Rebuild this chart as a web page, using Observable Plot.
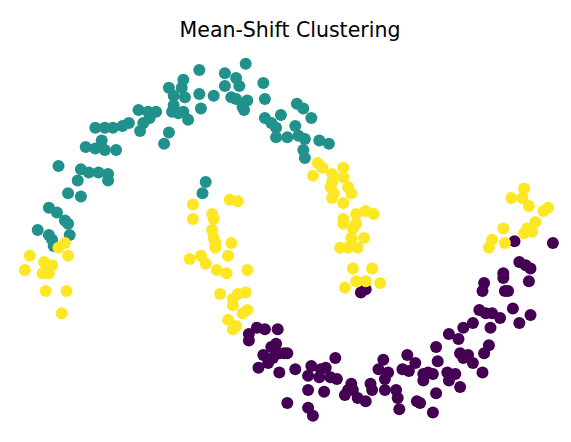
<!DOCTYPE html>
<html>
<head>
<meta charset="utf-8">
<script src="https://cdn.jsdelivr.net/npm/d3@7"></script>
<script src="https://cdn.jsdelivr.net/npm/@observablehq/plot@0.6"></script>
<style>
  body { margin: 0; background: #fff; width: 571px; }
  #title { height: 28px; padding-top: 20px; line-height: 20px; text-align: center; font-family: "DejaVu Sans", sans-serif; font-size: 20.5px; color: #000; padding-left: 9px; box-sizing: content-box; white-space: nowrap; }
</style>
</head>
<body>
<div id="title">Mean-Shift Clustering</div>
<div id="chart"></div>
<script>
const clusterNames = ["0", "1", "2"];
const clusterColors = ["#440154", "#21918c", "#fde725"];

// cluster 0 (purple)
const c0 = [
  [0.97,-0.18],[0.94,-0.20],[0.29,-0.42],[0.34,-0.43],[0.42,-0.43],[0.24,-0.46],[0.24,-0.50],
  [0.41,-0.52],[0.38,-0.54],[0.43,-0.58],[0.46,-0.58],[0.33,-0.59],[0.39,-0.61],[0.36,-0.64],
  [0.30,-0.67],[0.43,-0.70],[0.48,-0.89],[0.48,-0.58],[0.53,-0.68],[0.61,-0.72],[0.63,-0.66],
  [0.69,-0.68],[0.72,-0.67],[0.78,-0.61],[0.68,-0.73],[0.75,-0.73],[0.79,-0.74],[0.61,-0.81],
  [0.71,-0.82],[0.88,-0.77],[0.86,-0.81],[0.84,-0.84],[0.89,-0.81],[0.92,-0.86],[0.97,-0.88],
  [1.00,-0.77],[1.01,-0.81],[1.08,-0.62],[1.05,-0.68],[1.11,-0.70],[1.09,-0.74],[1.09,-0.81],
  [1.16,-0.81],[1.17,-0.86],[1.18,-0.93],[1.20,-0.68],[1.24,-0.69],[1.23,-0.59],[1.28,-0.64],
  [1.29,-0.88],[0.61,-0.92],[0.64,-0.97],[1.33,-0.71],[1.70,-0.19],[1.84,-0.19],[1.68,-0.31],
  [1.72,-0.33],[1.76,-0.33],[1.81,-0.36],[1.89,-0.30],[2.00,-0.34],[1.93,-0.39],[1.64,-0.39],
  [1.58,-0.42],[1.75,-0.42],[1.49,-0.46],[1.55,-0.49],[1.41,-0.54],[1.74,-0.53],[1.71,-0.58],
  [1.56,-0.58],[1.61,-0.59],[1.58,-0.61],[1.64,-0.64],[1.42,-0.63],[1.70,-0.70],[1.36,-0.70],
  [1.39,-0.71],[1.48,-0.70],[1.53,-0.71],[1.49,-0.75],[1.33,-0.75],[1.56,-0.79],[1.41,-0.83],
  [1.31,-0.89],[1.39,-0.95],[1.90,0.12],[2.14,0.11],[1.93,-0.01],[1.97,-0.03],[2.00,-0.05],
  [1.83,-0.08],[1.83,-0.11],[1.71,-0.14],[1.99,-0.13],[1.86,-0.19]
];

// cluster 1 (teal)
const c1 = [
  [-0.45,0.94],[-0.39,0.93],[-0.38,0.89],[-0.42,0.86],[-0.51,0.86],[-0.55,0.84],[-0.61,0.83],
  [-0.66,0.83],[-0.72,0.83],[-0.44,0.81],[-0.68,0.75],[-0.78,0.71],[-0.72,0.70],[-0.66,0.69],
  [-0.59,0.69],[-0.95,0.59],[-0.81,0.57],[-0.76,0.55],[-0.70,0.55],[-0.64,0.54],[-0.07,1.19],
  [0.22,1.23],[0.09,1.17],[0.16,1.14],[-0.17,1.13],[-0.26,1.08],[-0.18,1.08],[0.09,1.09],
  [0.18,1.09],[0.33,1.11],[-0.16,1.02],[-0.23,1.03],[-0.07,1.04],[0.02,1.03],[0.13,1.02],
  [0.16,1.01],[0.23,1.00],[0.34,1.01],[-0.23,0.97],[-0.06,0.95],[0.20,0.96],[0.21,0.94],
  [-0.34,0.93],[-0.24,0.93],[-0.20,0.92],[-0.17,0.93],[-0.14,0.88],[0.34,0.89],[0.38,0.86],
  [0.44,0.91],[0.41,0.83],[0.41,0.77],[0.48,0.77],[-0.26,0.80],[-0.29,0.73],[0.54,0.98],
  [0.58,0.95],[0.63,0.89],[0.53,0.84],[0.55,0.78],[0.59,0.76],[0.68,0.75],[0.74,0.73],
  [0.58,0.69],[0.59,0.64],[-0.83,0.50],[-0.64,0.50],[-0.89,0.42],[-0.81,0.40],[-1.01,0.33],
  [-0.96,0.30],[-0.91,0.25],[-0.89,0.23],[-0.88,0.16],[-1.08,0.19],[-1.01,0.16],[-0.99,0.13],
  [-0.98,0.09],[-0.03,0.49],[-0.05,0.42]
];

// cluster 2 (yellow)
const c2 = [
  [0.67,0.61],[0.70,0.58],[0.64,0.53],[0.76,0.54],[0.83,0.58],[0.83,0.52],[0.76,0.49],
  [0.75,0.46],[0.86,0.46],[0.77,0.42],[0.88,0.42],[0.76,0.39],[0.83,0.36],[0.91,0.29],
  [0.97,0.31],[1.02,0.29],[0.83,0.26],[0.83,0.23],[0.91,0.23],[0.89,0.20],[0.88,0.14],
  [0.96,0.14],[0.81,0.08],[0.86,0.08],[0.92,0.08],[0.89,-0.05],[1.01,-0.05],[0.84,-0.17],
  [0.91,-0.13],[0.97,-0.13],[1.06,-0.14],[-0.91,0.11],[-0.95,0.08],[-0.89,0.03],[-1.13,0.03],
  [-1.04,-0.01],[-0.99,-0.03],[-1.02,-0.05],[-1.16,-0.06],[-1.05,-0.08],[-1.01,-0.08],
  [-1.03,-0.19],[-0.90,-0.19],[-0.93,-0.33],[-0.11,0.35],[0.12,0.38],[0.17,0.37],[-0.11,0.26],
  [0.01,0.29],[0.02,0.26],[0.01,0.19],[0.02,0.14],[0.03,0.11],[0.03,0.08],[0.13,0.11],
  [0.11,0.03],[-0.13,0.01],[-0.06,0.03],[-0.03,-0.02],[0.04,-0.06],[0.10,-0.08],[0.23,-0.06],
  [0.06,-0.21],[0.17,-0.21],[0.22,-0.20],[0.14,-0.24],[0.14,-0.28],[0.20,-0.33],[0.23,-0.31],
  [0.11,-0.37],[0.14,-0.43],[0.16,-0.41],[1.96,0.45],[1.95,0.39],[1.88,0.39],[1.99,0.34],
  [2.08,0.31],[2.11,0.33],[2.03,0.24],[1.83,0.20],[1.98,0.20],[1.96,0.17],[2.01,0.18],
  [1.76,0.13],[1.74,0.08],[1.84,0.11]
];

const points = [
  ...c0.map(([x, y]) => ({x, y, cluster: "0"})),
  ...c1.map(([x, y]) => ({x, y, cluster: "1"})),
  ...c2.map(([x, y]) => ({x, y, cluster: "2"}))
];

const chart = Plot.plot({
  width: 571,
  height: 394,
  margin: 0,
  x: {axis: null, domain: [-1.3125, 2.25625], range: [0, 571]},
  y: {axis: null, domain: [-1.1375, 1.325], range: [394, 0]},
  color: {domain: clusterNames, range: clusterColors},
  marks: [
    Plot.dot(points, {x: "x", y: "y", r: 6, fill: "cluster", stroke: "none", fillOpacity: 1})
  ]
});
document.getElementById("chart").appendChild(chart);
</script>
</body>
</html>
